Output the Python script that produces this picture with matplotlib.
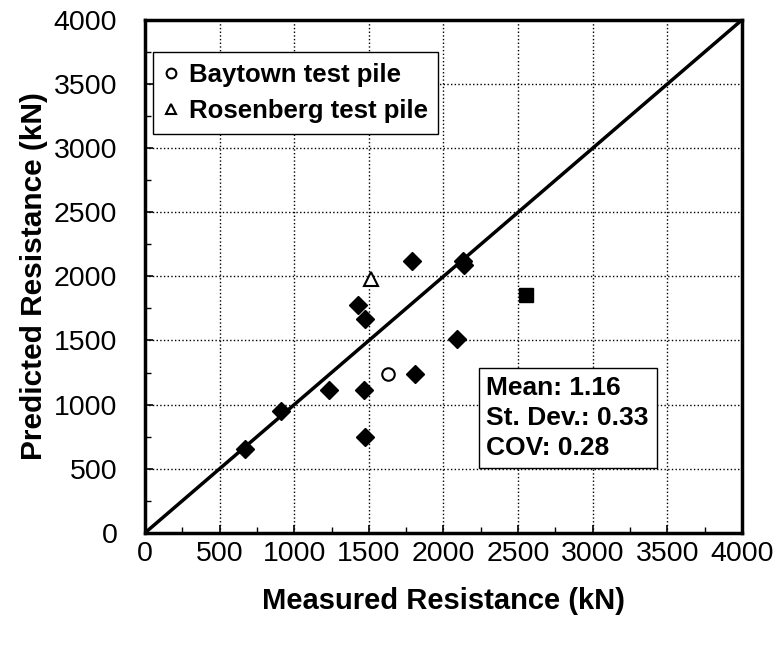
import matplotlib.pyplot as plt
from matplotlib.lines import Line2D
from matplotlib.ticker import MultipleLocator

plt.rcParams['font.family'] = ['Liberation Sans', 'DejaVu Sans']

# mediciones (kN)
diam_x = [670, 910, 1230, 1465, 1475, 1430, 1475, 1790, 1810, 2090, 2130, 2140]
diam_y = [650, 950, 1110, 1115, 745, 1775, 1670, 2120, 1235, 1510, 2120, 2090]
cuad_x = [2550]
cuad_y = [1855]
baytown_x = [1625]
baytown_y = [1235]
rosen_x = [1515]
rosen_y = [1980]
linea = [0, 4000]
ticks = [0, 500, 1000, 1500, 2000, 2500, 3000, 3500, 4000]

fig = plt.figure(figsize=(7.76, 6.45), dpi=100)
ax = fig.add_axes([0.187, 0.174, 0.769, 0.795])

ax.plot(linea, linea, color='black', lw=2.5, zorder=2)
ax.plot(diam_x, diam_y, 'D', color='black', markersize=9.5, zorder=3)
ax.plot(cuad_x, cuad_y, 's', color='black', markersize=10, zorder=3)
ax.plot(baytown_x, baytown_y, 'o', mfc='white', mec='black', mew=1.5,
        markersize=9, zorder=3)
ax.plot(rosen_x, rosen_y, '^', mfc='white', mec='black', mew=1.5,
        markersize=10, zorder=3)

ax.set_xlim(0, 4000)
ax.set_ylim(0, 4000)
ax.set_xticks(ticks)
ax.set_yticks(ticks)
ax.xaxis.set_minor_locator(MultipleLocator(250))
ax.yaxis.set_minor_locator(MultipleLocator(250))
ax.tick_params(which='both', direction='in', labelsize=20.5)
ax.tick_params(which='major', length=6, width=1.2)
ax.tick_params(which='minor', length=4, width=1)
ax.tick_params(axis='x', pad=6)
ax.tick_params(axis='y', pad=20)
ax.grid(True, which='major', linestyle=':', color='black', lw=1)
ax.set_axisbelow(True)
for s in ax.spines.values():
    s.set_linewidth(2.5)

ax.set_xlabel('Measured Resistance (kN)', fontsize=21, fontweight='bold',
              labelpad=14)
ax.set_ylabel('Predicted Resistance (kN)', fontsize=21.5, fontweight='bold',
              labelpad=4)

# leyenda
marcas = [
    Line2D([], [], ls='none', marker='o', mfc='white', mec='black', mew=1.5,
           markersize=7, label='Baytown test pile'),
    Line2D([], [], ls='none', marker='^', mfc='white', mec='black', mew=1.5,
           markersize=7, label='Rosenberg test pile'),
]
leg = ax.legend(handles=marcas, loc='upper left', bbox_to_anchor=(0.013, 0.937),
                borderaxespad=0, prop={'size': 18.5, 'weight': 'bold'},
                handlelength=0.6, handletextpad=0.4, labelspacing=0.5,
                borderpad=0.4, fancybox=False, edgecolor='black',
                framealpha=1)
leg.get_frame().set_linewidth(1)

ax.text(0.572, 0.305, 'Mean: 1.16\nSt. Dev.: 0.33\nCOV: 0.28',
        transform=ax.transAxes, fontsize=19, fontweight='bold',
        va='top', ha='left', linespacing=1.3,
        bbox=dict(boxstyle='square,pad=0.3', fc='white', ec='black', lw=1))

fig.savefig('out.png', dpi=100)
